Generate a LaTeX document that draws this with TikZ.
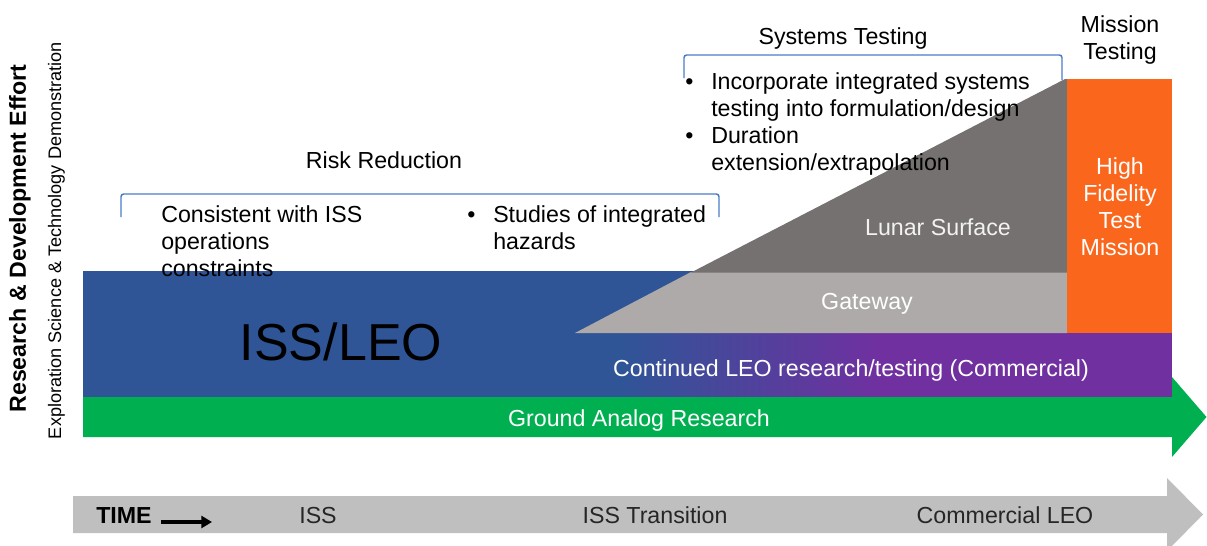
\documentclass[tikz,border=0pt]{standalone}
\usepackage{fontspec}
\setmainfont{Liberation Sans}
\usetikzlibrary{arrows.meta}
\definecolor{issblue}{HTML}{2F5597}
\definecolor{lunargray}{HTML}{767171}
\definecolor{gatewaygray}{HTML}{AEAAAA}
\definecolor{hforange}{HTML}{FA671C}
\definecolor{leopurple}{HTML}{7030A0}
\definecolor{groundgreen}{HTML}{00B050}
\definecolor{timegray}{HTML}{BFBFBF}
\definecolor{bracketblue}{HTML}{4A7CC8}
\definecolor{darktext}{HTML}{262626}
\begin{document}
\begin{tikzpicture}[x=0.75pt,y=-0.75pt,
  txt/.style={font=\fontsize{17.4}{20.25}\selectfont, inner sep=0pt, text=black},
  wtxt/.style={txt, text=white},
  bracket/.style={draw=bracketblue, line width=1.1pt, rounded corners=2pt},
  band/.style={draw=none}]
\useasboundingbox (0,0) rectangle (1207,546);
\clip (0,0) rectangle (1207,546);

% time arrow
\fill[timegray] (73,496) -- (1167,496) -- (1167,478) -- (1203,514.5) -- (1167,551) -- (1167,533) -- (73,533) -- cycle;

% ISS/LEO blue
\fill[issblue] (83,271) rectangle (1172,397);
% continued LEO band with gradient
\shade[left color=issblue, right color=leopurple] (620,333) rectangle (880,397);
\fill[leopurple] (879,333) rectangle (1172,397);
% gateway
\fill[gatewaygray] (575,333) -- (691,272) -- (1067,272) -- (1067,333) -- cycle;
% lunar surface
\fill[lunargray] (691,272.5) -- (1065,79) -- (1067,79) -- (1067,272.5) -- cycle;
% high fidelity
\fill[hforange] (1067,79) rectangle (1172,333);
% ground analog arrow
\fill[groundgreen] (83,397) -- (1172,397) -- (1172,377) -- (1206.5,417) -- (1172,457) -- (1172,437) -- (83,437) -- cycle;

% brackets
\draw[bracket] (121,217) -- (121,194) -- (719,194) -- (719,217);
\draw[bracket] (684,78) -- (684,55) -- (1062,55) -- (1062,80);

% side titles
\node[txt, rotate=90, anchor=base, font=\bfseries\fontsize{17.4}{20}\selectfont] (rd) at (26,238.5) {Research \& Development Effort};
\node[txt, rotate=90, anchor=base, font=\fontsize{13.6}{16}\selectfont] (es) at (61,240.5) {Exploration Science \& Technology Demonstration};

% headings
\node[txt, anchor=base] (risk) at (384,168) {Risk Reduction};
\node[txt, anchor=base] (sys) at (843,44) {Systems Testing};
\node[txt, anchor=north, align=center] (mission) at (1120,15) {Mission\\Testing};

% bullet texts
\node[txt, anchor=north west, align=left] (consistent) at (161,205) {Consistent with ISS\\operations\\constraints};
\node[txt, anchor=north west] (studies) at (467,203) {%
  \begin{tabular}{@{}l@{}l@{}}\makebox[19.5pt][l]{\textbullet}&Studies of integrated\\&hazards\end{tabular}};
\node[txt, anchor=north west] (systxt) at (685,70.5) {%
  \begin{tabular}{@{}l@{}l@{}}\makebox[19.5pt][l]{\textbullet}&Incorporate integrated systems\\&testing into formulation/design\\
  \makebox[19.5pt][l]{\textbullet}&Duration\\&extension/extrapolation\end{tabular}};

% region labels
\node[txt, anchor=base, font=\fontsize{39}{40}\selectfont] (iss) at (341,360) {ISS/LEO};
\node[txt, anchor=base, text=white!95!black] (lunar) at (938,235) {Lunar Surface};
\node[wtxt, anchor=base] (gw) at (867,309) {Gateway};
\node[wtxt, anchor=north, align=center] (hf) at (1120,157) {High\\Fidelity\\Test\\Mission};
\node[wtxt, anchor=base] (leo) at (851,376) {Continued LEO research/testing (Commercial)};
\node[wtxt, anchor=base] (ground) at (639,426) {Ground Analog Research};

% time row
\node[txt, anchor=base west, font=\bfseries\fontsize{17.4}{20}\selectfont] (time) at (96,523) {TIME};
\coordinate (ta) at (161,522);
\coordinate (tb) at (212,522);
\draw[line width=2.6pt, -{Triangle[length=8pt,width=9pt]}] (ta) -- (tb);
\node[txt, anchor=base, text=darktext] (t1) at (318,523) {ISS};
\node[txt, anchor=base, text=darktext] (t2) at (655,523) {ISS Transition};
\node[txt, anchor=base, text=darktext] (t3) at (1005,523) {Commercial LEO};
\end{tikzpicture}
\end{document}
